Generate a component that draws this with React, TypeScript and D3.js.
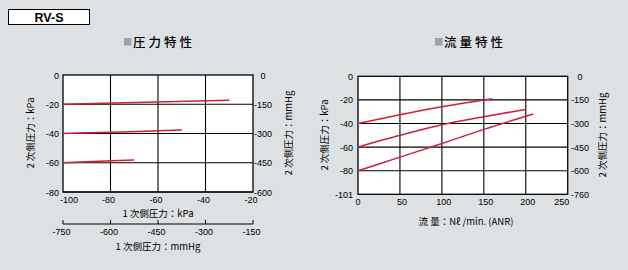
import React from "react";
import * as d3 from "d3";

// ---- Data ----
// Pressure characteristics (x: primary pressure kPa, y: secondary pressure kPa)
const pressXTicks = [-100, -80, -60, -40, -20];
const pressXTicksMmHg = [-750, -600, -450, -300, -150];
const pressYTicks = [0, -20, -40, -60, -80];
const pressYTicksMmHg = [0, -150, -300, -450, -600];
const pressLine1: [number, number][] = [[-100, -20], [-65, -18.7], [-30, -17.2]];
const pressLine2: [number, number][] = [[-100, -40], [-75, -38.9], [-50, -37.6]];
const pressLine3: [number, number][] = [[-100, -60], [-85, -59], [-70, -58.1]];

// Flow characteristics (x: flow Nl/min, y: secondary pressure kPa)
const flowXTicks = [0, 50, 100, 150, 200, 250];
const flowYTicks = [0, -20, -40, -60, -80, -101];
const flowYTicksMmHg = [0, -150, -300, -450, -600, -760];
const flowLine1: [number, number][] = [[0, -40], [50, -32.6], [100, -25.8], [160, -19]];
const flowLine2: [number, number][] = [[0, -60], [50, -50], [100, -41], [150, -34.3], [200, -28]];
const flowLine3: [number, number][] = [[0, -80], [50, -68.5], [100, -57], [150, -45], [209, -32]];

const BG = "#dde1e4";
const RED = "#cc1f3a";
const SQ = "#94a4b0";
const NUM_FONT = "'Liberation Sans', Arial, sans-serif";
const CJK_FONT = "'Noto Sans CJK JP', 'Noto Sans', sans-serif";

function PressureChart() {
  const L = 63, R = 253, T = 75, B = 192;
  const x = d3.scaleLinear().domain([-100, -20]).range([L, R]);
  const y = d3.scaleLinear().domain([0, -80]).range([T, B]);
  const yR = d3.scaleLinear().domain([0, -600]).range([T, B]);
  const x2 = d3.scaleLinear().domain([-750, -150]).range([L, R]);
  const line = d3.line<[number, number]>().x((d) => x(d[0])).y((d) => y(d[1])).curve(d3.curveMonotoneX);
  const axisY2 = 224;
  return (
    <g>
      <rect x={L} y={T} width={R - L} height={B - T} fill="#fff" />
      {pressXTicks.slice(1, -1).map((t) => (
        <line key={"gx" + t} x1={x(t)} x2={x(t)} y1={T} y2={B} stroke="#000" strokeWidth={1.1} />
      ))}
      {pressYTicks.slice(1).map((t) => (
        <line key={"gy" + t} x1={L} x2={R} y1={y(t)} y2={y(t)} stroke="#000" strokeWidth={1.1} />
      ))}
      <rect x={L} y={T} width={R - L} height={B - T} fill="none" stroke="#000" strokeWidth={1.3} />
      {[pressLine1, pressLine2, pressLine3].map((d, i) => (
        <path key={"l" + i} d={line(d) || ""} fill="none" stroke={RED} strokeWidth={1.5} />
      ))}
      {pressYTicks.map((t) => (
        <text key={"yl" + t} x={59} y={y(t) + 3.5} textAnchor="end" fontSize={9} fontFamily={NUM_FONT}>{t === 0 ? "0" : "-" + Math.abs(t)}</text>
      ))}
      {pressYTicksMmHg.map((t) => (
        <text key={"yr" + t} x={263} y={yR(t) + 3.5} textAnchor="middle" fontSize={9} fontFamily={NUM_FONT}>{t === 0 ? "0" : "-" + Math.abs(t)}</text>
      ))}
      {pressXTicks.map((t, i) => (
        <text key={"xl" + t} x={i === 0 ? 60 : x(t) - 2} y={203} textAnchor={i === 0 ? "start" : "middle"} fontSize={9} fontFamily={NUM_FONT}>{"-" + Math.abs(t)}</text>
      ))}
      <text x={158} y={216.5} textAnchor="middle" fontSize={9.5} fontFamily={CJK_FONT}>1 次側圧力：kPa</text>
      <line x1={L} x2={R} y1={axisY2} y2={axisY2} stroke="#000" strokeWidth={1} />
      {pressXTicksMmHg.map((t) => (
        <line key={"t2" + t} x1={x2(t)} x2={x2(t)} y1={axisY2 - 4} y2={axisY2} stroke="#000" strokeWidth={1} />
      ))}
      {pressXTicksMmHg.map((t) => (
        <text key={"x2l" + t} x={x2(t) - 1.5} y={234.5} textAnchor="middle" fontSize={9} fontFamily={NUM_FONT}>{"-" + Math.abs(t)}</text>
      ))}
      <text x={158} y={249.5} textAnchor="middle" fontSize={9.5} fontFamily={CJK_FONT}>1 次側圧力：mmHg</text>
      <text transform={`translate(34,133) rotate(-90)`} textAnchor="middle" fontSize={9.5} fontFamily={CJK_FONT}>2 次側圧力：kPa</text>
      <text transform={`translate(292,133) rotate(-90)`} textAnchor="middle" fontSize={9.5} fontFamily={CJK_FONT}>2 次側圧力：mmHg</text>
    </g>
  );
}

function FlowChart() {
  const L = 358, R = 567.7, T = 76.3, B = 194.3;
  const x = d3.scaleLinear().domain([0, 250]).range([L, R]);
  const step = (B - T) / (flowYTicks.length - 1);
  const y = d3.scaleLinear().domain(flowYTicks).range(flowYTicks.map((_, i) => T + i * step));
  const yR = d3.scaleLinear().domain(flowYTicksMmHg).range(flowYTicksMmHg.map((_, i) => T + i * step));
  const line = d3.line<[number, number]>().x((d) => x(d[0])).y((d) => y(d[1])).curve(d3.curveMonotoneX);
  return (
    <g>
      <rect x={L} y={T} width={R - L} height={B - T} fill="#fff" />
      {flowXTicks.slice(1, -1).map((t) => (
        <line key={"gx" + t} x1={x(t)} x2={x(t)} y1={T} y2={B} stroke="#000" strokeWidth={1.1} />
      ))}
      {flowYTicks.slice(1, -1).map((t) => (
        <line key={"gy" + t} x1={L} x2={R} y1={y(t)} y2={y(t)} stroke="#000" strokeWidth={1.1} />
      ))}
      <rect x={L} y={T} width={R - L} height={B - T} fill="none" stroke="#000" strokeWidth={1.3} />
      {[flowLine1, flowLine2, flowLine3].map((d, i) => (
        <path key={"l" + i} d={line(d) || ""} fill="none" stroke={RED} strokeWidth={1.5} />
      ))}
      {flowYTicks.map((t) => (
        <text key={"yl" + t} x={353} y={y(t) + 3.5} textAnchor="end" fontSize={9} fontFamily={NUM_FONT}>{t === 0 ? "0" : "-" + Math.abs(t)}</text>
      ))}
      {flowYTicksMmHg.map((t) => (
        <text key={"yr" + t} x={580} y={yR(t) + 3.5} textAnchor="middle" fontSize={9} fontFamily={NUM_FONT}>{t === 0 ? "0" : "-" + Math.abs(t)}</text>
      ))}
      {flowXTicks.map((t, i) => (
        <text key={"xl" + t} x={i === flowXTicks.length - 1 ? x(t) - 6 : x(t) + (i === 0 ? 0 : 2)} y={205} textAnchor="middle" fontSize={9} fontFamily={NUM_FONT}>{String(t)}</text>
      ))}
      <text x={466} y={224.5} textAnchor="middle" fontSize={9.5} fontFamily={CJK_FONT}>流 量：Nℓ /min. (ANR)</text>
      <text transform={`translate(328,135) rotate(-90)`} textAnchor="middle" fontSize={9.5} fontFamily={CJK_FONT}>2 次側圧力：kPa</text>
      <text transform={`translate(606,135) rotate(-90)`} textAnchor="middle" fontSize={9.5} fontFamily={CJK_FONT}>2 次側圧力：mmHg</text>
    </g>
  );
}

export default function App() {
  return (
    <svg width={628} height={270} style={{ position: "absolute", left: 0, top: 0 }}>
      <rect x={0} y={0} width={628} height={270} fill={BG} />
      <rect x={8.5} y={9.5} width={81} height={15} fill="#fff" stroke="#000" strokeWidth={1} />
      <text x={49} y={21.5} textAnchor="middle" fontSize={12.5} fontWeight="bold" fontFamily={NUM_FONT}>RV-S</text>
      <rect x={124} y={38} width={7.5} height={7.5} fill={SQ} />
      <text x={133} y={47} fontSize={12.5} fontWeight={500} letterSpacing={3} fontFamily={CJK_FONT}>圧力特性</text>
      <rect x={435} y={38} width={7.5} height={7.5} fill={SQ} />
      <text x={444} y={47} fontSize={12.5} fontWeight={500} letterSpacing={3} fontFamily={CJK_FONT}>流量特性</text>
      <PressureChart />
      <FlowChart />
    </svg>
  );
}
